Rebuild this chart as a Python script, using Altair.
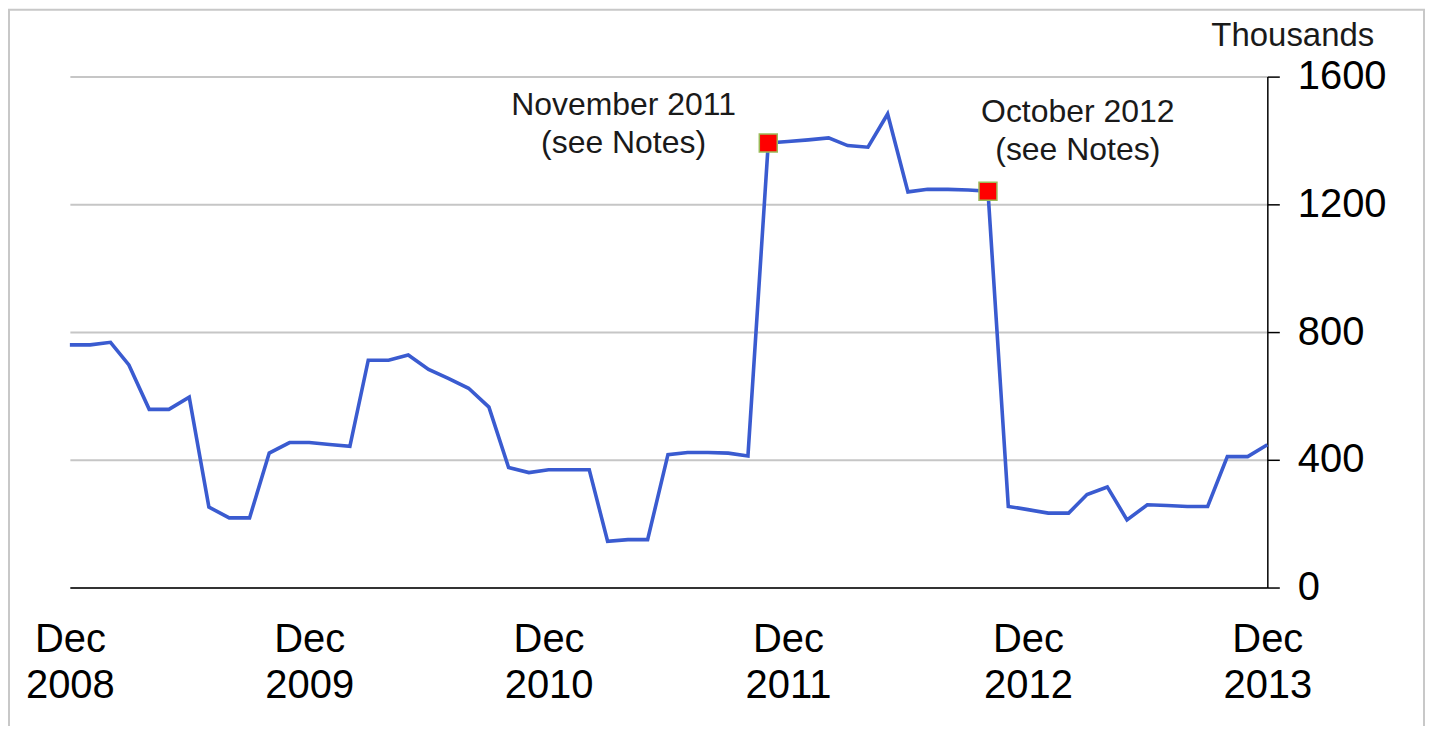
import altair as alt
import pandas as pd

# ---- data -------------------------------------------------------------
months = pd.date_range("2008-12-01", "2013-12-01", freq="MS").strftime("%Y-%m-%d").tolist()
values = [
    760, 760, 768, 697, 558, 558, 596, 252, 218, 218,
    421, 454, 454, 448, 442, 712, 712, 728, 683, 655,
    624, 565, 376, 360, 369, 369, 369, 145, 150, 150,
    416, 423, 423, 421, 412, 1392, 1397, 1402, 1408, 1384,
    1379, 1483, 1239, 1247, 1247, 1245, 1241, 254, 244, 233,
    233, 291, 315, 212, 259, 257, 254, 254, 410, 410,
    447,
]
note_months = ["2011-11-01", "2012-10-01"]
note_labels = ["November 2011\n(see Notes)", "October 2012\n(see Notes)"]
tick_years = [2008, 2009, 2010, 2011, 2012, 2013]
y_ticks = [0, 400, 800, 1200, 1600]

df = pd.DataFrame({"month": months, "value": values})
notes = pd.DataFrame({"month": note_months, "label": note_labels, "idx": [0, 1]})
notes = notes.merge(df, on="month", how="left")

FONT = "Liberation Sans"

def dt(y):
    return alt.DateTime(year=y, month=12, date=1, utc=True)

x_enc = alt.X(
    "month:T",
    scale=alt.Scale(type="utc", domain=[dt(2008), dt(2013)]),
    axis=alt.Axis(
        values=[dt(y) for y in tick_years],
        labelExpr="['Dec', utcFormat(datum.value, '%Y')]",
        title=None,
        grid=False,
        ticks=False,
        tickSize=0,
        domainColor="#000000",
        domainWidth=1.5,
        labelFont=FONT,
        labelFontSize=40,
        labelColor="#000000",
        labelPadding=32,
        labelLineHeight=46,
        labelFlush=False,
        labelOverlap=False,
        labelBound=False,
    ),
)
y_enc = alt.Y(
    "value:Q",
    scale=alt.Scale(domain=[0, 1600], nice=False, zero=True),
    axis=alt.Axis(
        orient="right",
        values=y_ticks,
        format="d",
        title="Thousands",
        titleAngle=0,
        titleAlign="center",
        titleBaseline="alphabetic",
        titleX=25,
        titleY=-31,
        titleFont=FONT,
        titleFontSize=33,
        titleFontWeight="normal",
        titleColor="#1a1a1a",
        grid=True,
        gridColor="#C6C6C6",
        gridWidth=2,
        domainColor="#000000",
        domainWidth=1.5,
        tickColor="#000000",
        tickWidth=1.5,
        tickSize=12,
        labelFont=FONT,
        labelFontSize=40,
        labelColor="#000000",
        labelPadding=18,
        labelFlush=False,
        labelBound=False,
    ),
)

border = alt.Chart(pd.DataFrame({"a": [0]})).mark_rect(
    fillOpacity=0, stroke="#C8C8C8", strokeWidth=2
).encode(
    x=alt.value(-61), x2=alt.value(1357), y=alt.value(-67), y2=alt.value(760)
)

line = alt.Chart(df).mark_line(color="#3A5BD0", strokeWidth=3.6).encode(x=x_enc, y=y_enc)

base_notes = alt.Chart(notes).encode(x=x_enc, y=y_enc)
points = base_notes.mark_point(
    shape="square", size=324, filled=True, fill="#FF0000", stroke="#9BBB59",
    strokeWidth=1.5, opacity=1
)
text_nov = base_notes.transform_filter(alt.datum.idx == 0).mark_text(
    font=FONT, fontSize=32, color="#1a1a1a", align="center", baseline="alphabetic",
    lineBreak="\n", lineHeight=38, dx=-145, dy=-28
).encode(text="label:N")
text_oct = base_notes.transform_filter(alt.datum.idx == 1).mark_text(
    font=FONT, fontSize=32, color="#1a1a1a", align="center", baseline="alphabetic",
    lineBreak="\n", lineHeight=38, dx=90, dy=-69
).encode(text="label:N")

chart = alt.layer(border, line, points, text_nov, text_oct).properties(
    width=1200,
    height=512,
    padding={"left": 62, "top": 68, "right": 158, "bottom": 138},
    autosize=alt.AutoSizeParams(type="none"),
    background="#FFFFFF",
).configure_view(stroke=None)

chart.save("out.html", embed_options={"renderer": "svg", "actions": False})
